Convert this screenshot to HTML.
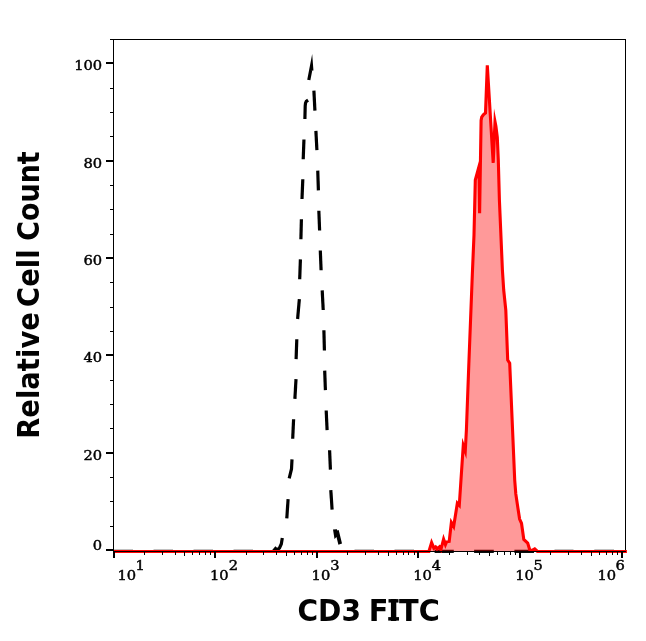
<!DOCTYPE html>
<html lang="en"><head><meta charset="utf-8"><title>CD3 FITC histogram</title>
<style>
html,body{margin:0;padding:0;background:#fff;}
body{width:646px;height:641px;overflow:hidden;}
svg{display:block;}
.tk{font-family:"DejaVu Serif","Liberation Serif",serif;font-size:13.1px;fill:#000;stroke:#000;stroke-width:0.45px;}
.ttl{font-family:"DejaVu Sans","Liberation Sans",sans-serif;font-weight:bold;font-size:29.6px;fill:#000;}
</style></head><body>
<svg width="646" height="641" viewBox="0 0 646 641">
<rect x="0" y="0" width="646" height="641" fill="#ffffff"/>
<g shape-rendering="crispEdges" fill="#000">
<rect x="110" y="39" width="516" height="1"/>
<rect x="113" y="39" width="1" height="513"/>
<rect x="625" y="39" width="1" height="513"/>
<rect x="106" y="62" width="7" height="2"/>
<rect x="106" y="160" width="7" height="2"/>
<rect x="106" y="257" width="7" height="2"/>
<rect x="106" y="354" width="7" height="2"/>
<rect x="106" y="452" width="7" height="2"/>
<rect x="106" y="549" width="7" height="2"/>
<rect x="110" y="88" width="3" height="1"/>
<rect x="110" y="112" width="3" height="1"/>
<rect x="110" y="136" width="3" height="1"/>
<rect x="110" y="185" width="3" height="1"/>
<rect x="110" y="209" width="3" height="1"/>
<rect x="110" y="234" width="3" height="1"/>
<rect x="110" y="282" width="3" height="1"/>
<rect x="110" y="307" width="3" height="1"/>
<rect x="110" y="331" width="3" height="1"/>
<rect x="110" y="380" width="3" height="1"/>
<rect x="110" y="404" width="3" height="1"/>
<rect x="110" y="428" width="3" height="1"/>
<rect x="110" y="477" width="3" height="1"/>
<rect x="110" y="501" width="3" height="1"/>
<rect x="110" y="526" width="3" height="1"/>
</g>
<g fill="none" stroke="#000" stroke-width="3.2" stroke-linecap="butt" stroke-linejoin="miter" stroke-miterlimit="10">
<path d="M113.5 551.35H133"/>
<path d="M153.5 551.35H173"/>
<path d="M193.5 551.35H213"/>
<path d="M233.5 551.35H253"/>
<path d="M354.5 551.35H374"/>
<path d="M394.5 551.35H414"/>
<path d="M434.6 551.35H453.8"/>
<path d="M474.1 551.35H493.8"/>
<path d="M514.4 551.35H534"/>
<path d="M554.5 551.35H573.5"/>
<path d="M594.3 551.35H614"/>
<path d="M308.8 80 L311.5 66 L311.85 70.6"/>
<path d="M313.9 90.6 L314.9 110.6"/>
<path d="M315.9 130.9 L316.9 150.1"/>
<path d="M317.75 170.6 L318.4 190.4"/>
<path d="M318.85 210.7 L319.6 230.5"/>
<path d="M320.3 250.5 L321.1 270.2"/>
<path d="M322.2 290.3 L323.2 310"/>
<path d="M323.9 330.3 L324.4 350.5"/>
<path d="M324.7 370.6 L325.4 390.1"/>
<path d="M326.2 410.5 L327.1 430.1"/>
<path d="M329.6 450.3 L330.4 469.6"/>
<path d="M330.8 490.2 L332.1 509.7"/>
<path d="M308.1 100.1 L306.3 101.3 L305.5 103.2 L305.2 106 L304.9 119"/>
<path d="M303.95 139.5 L303.2 159.2"/>
<path d="M302.8 179.3 L302 199"/>
<path d="M301.4 219.3 L300.9 239.25"/>
<path d="M300.4 259.4 L299.7 279.2"/>
<path d="M299.35 299.2 L297.6 319"/>
<path d="M296.8 339.2 L296.1 359.1"/>
<path d="M296 379.2 L294.9 398.9"/>
<path d="M293.6 419.3 L292.7 438.8"/>
<path d="M292 459.3 L291.5 469 L289.2 478.4"/>
<path d="M288.1 499.2 L286.8 518.3"/>
<path d="M282.3 538 L281.3 544 L279.5 548 L277 550 L275.5 548.5 L273 551.5"/>
</g>
<polygon fill="#000" points="333.0,529.6 336.9,529.3 337.3,530.4 338.7,529.9 342.0,543.5 338.4,544.7 336.5,537.0 334.5,539.0"/>
<clipPath id="cp"><rect x="0" y="0" width="646" height="553.1"/></clipPath>
<g clip-path="url(#cp)">
<path d="M114.0 551.5 L428.9 551.5 L431.59 542.55 L433.9 548.2 L435.6 546.9 L437.1 549.0 L439.4 546.9 L440.9 549.6 L443.59 539.12 L445.44 544.55 L446.6 541.8 L449.2 541.4 L451.38 522.56 L453.66 526.4 L457.35 503.24 L459.29 505.35 L463.27 445.42 L465.26 451.06 L466.4 430 L468.8 365 L472.3 275 L474.0 235 L475.3 180 L479.0 166.5 L479.6 213.28 L481.1 120.5 L481.7 117.2 L483.3 114.8 L485.5 113 L487.3 65.3 L493.2 162.92 L495.0 121.6 L495.9 126.2 L497.3 137.5 L498.3 160 L499.4 200 L502.4 270 L503.7 290 L505.8 310 L507.7 360 L509.7 363.2 L514.7 480 L515.8 493.9 L517.9 507.9 L519.6 519.1 L521.5 523.3 L523.8 539.5 L527.7 543 L529.8 550 L531.9 550.3 L534.7 548.9 L537.5 551.5 L626.9 551.5 Z" fill="#ff0000" fill-opacity="0.4" stroke="none"/>
<path d="M114.0 551.5 L428.9 551.5 L431.59 542.55 L433.9 548.2 L435.6 546.9 L437.1 549.0 L439.4 546.9 L440.9 549.6 L443.59 539.12 L445.44 544.55 L446.6 541.8 L449.2 541.4 L451.38 522.56 L453.66 526.4 L457.35 503.24 L459.29 505.35 L463.27 445.42 L465.26 451.06 L466.4 430 L468.8 365 L472.3 275 L474.0 235 L475.3 180 L479.0 166.5 L479.6 213.28 L481.1 120.5 L481.7 117.2 L483.3 114.8 L485.5 113 L487.3 65.3 L493.2 162.92 L495.0 121.6 L495.9 126.2 L497.3 137.5 L498.3 160 L499.4 200 L502.4 270 L503.7 290 L505.8 310 L507.7 360 L509.7 363.2 L514.7 480 L515.8 493.9 L517.9 507.9 L519.6 519.1 L521.5 523.3 L523.8 539.5 L527.7 543 L529.8 550 L531.9 550.3 L534.7 548.9 L537.5 551.5 L626.9 551.5" fill="none" stroke="#ff0000" stroke-width="3.1" stroke-linejoin="miter" stroke-miterlimit="10.0" stroke-linecap="butt"/>
</g>
<g shape-rendering="crispEdges" fill="#000">
<rect x="113" y="551" width="513" height="1"/>
<rect x="113" y="552" width="2" height="6"/>
<rect x="144" y="552" width="1" height="3"/>
<rect x="162" y="552" width="1" height="3"/>
<rect x="175" y="552" width="1" height="3"/>
<rect x="184" y="552" width="1" height="4"/>
<rect x="192" y="552" width="1" height="3"/>
<rect x="199" y="552" width="1" height="3"/>
<rect x="205" y="552" width="1" height="3"/>
<rect x="210" y="552" width="1" height="3"/>
<rect x="214" y="552" width="2" height="6"/>
<rect x="246" y="552" width="1" height="3"/>
<rect x="263" y="552" width="1" height="3"/>
<rect x="276" y="552" width="1" height="3"/>
<rect x="286" y="552" width="1" height="4"/>
<rect x="294" y="552" width="1" height="3"/>
<rect x="301" y="552" width="1" height="3"/>
<rect x="307" y="552" width="1" height="3"/>
<rect x="312" y="552" width="1" height="3"/>
<rect x="316" y="552" width="2" height="6"/>
<rect x="347" y="552" width="1" height="3"/>
<rect x="365" y="552" width="1" height="3"/>
<rect x="378" y="552" width="1" height="3"/>
<rect x="388" y="552" width="1" height="4"/>
<rect x="396" y="552" width="1" height="3"/>
<rect x="403" y="552" width="1" height="3"/>
<rect x="408" y="552" width="1" height="3"/>
<rect x="414" y="552" width="1" height="3"/>
<rect x="417" y="552" width="2" height="6"/>
<rect x="449" y="552" width="1" height="3"/>
<rect x="467" y="552" width="1" height="3"/>
<rect x="479" y="552" width="1" height="3"/>
<rect x="489" y="552" width="1" height="4"/>
<rect x="497" y="552" width="1" height="3"/>
<rect x="504" y="552" width="1" height="3"/>
<rect x="510" y="552" width="1" height="3"/>
<rect x="515" y="552" width="1" height="3"/>
<rect x="519" y="552" width="2" height="6"/>
<rect x="550" y="552" width="1" height="3"/>
<rect x="568" y="552" width="1" height="3"/>
<rect x="581" y="552" width="1" height="3"/>
<rect x="591" y="552" width="1" height="4"/>
<rect x="599" y="552" width="1" height="3"/>
<rect x="606" y="552" width="1" height="3"/>
<rect x="612" y="552" width="1" height="3"/>
<rect x="617" y="552" width="1" height="3"/>
<rect x="621" y="552" width="2" height="6"/>
</g>
<g opacity="0.996">
<text class="tk" transform="translate(102.2,70) scale(1.12,1)" text-anchor="end">100</text>
<text class="tk" transform="translate(102.2,168) scale(1.12,1)" text-anchor="end">80</text>
<text class="tk" transform="translate(102.2,265) scale(1.12,1)" text-anchor="end">60</text>
<text class="tk" transform="translate(102.2,362) scale(1.12,1)" text-anchor="end">40</text>
<text class="tk" transform="translate(102.2,460) scale(1.12,1)" text-anchor="end">20</text>
<text class="tk" transform="translate(102.2,550) scale(1.12,1)" text-anchor="end">0</text>
<text class="tk" transform="translate(117.5,580) scale(1.12,1)" text-anchor="start">10</text>
<text class="tk" transform="translate(135.6,570) scale(1.12,1)" text-anchor="start">1</text>
<text class="tk" transform="translate(210.0,580) scale(1.12,1)" text-anchor="start">10</text>
<text class="tk" transform="translate(228.7,570) scale(1.12,1)" text-anchor="start">2</text>
<text class="tk" transform="translate(311.6,580) scale(1.12,1)" text-anchor="start">10</text>
<text class="tk" transform="translate(330.2,570) scale(1.12,1)" text-anchor="start">3</text>
<text class="tk" transform="translate(413.3,580) scale(1.12,1)" text-anchor="start">10</text>
<text class="tk" transform="translate(431.8,570) scale(1.12,1)" text-anchor="start">4</text>
<text class="tk" transform="translate(515.3,580) scale(1.12,1)" text-anchor="start">10</text>
<text class="tk" transform="translate(533.5,570) scale(1.12,1)" text-anchor="start">5</text>
<text class="tk" transform="translate(597.5,580) scale(1.12,1)" text-anchor="start">10</text>
<text class="tk" transform="translate(615.5,570) scale(1.12,1)" text-anchor="start">6</text>
<text class="ttl" transform="translate(297.5,620.5) scale(0.9485,1)">CD3</text>
<text class="ttl" transform="translate(368.7,620.5) scale(0.9725,1)">FITC</text>
<rect x="388.5" y="599.1" width="10.0" height="3.5" fill="#000"/><rect x="388.2" y="617.1" width="10.8" height="3.5" fill="#000"/>
<text class="ttl" transform="translate(38.9,438.8) rotate(-90) scale(0.9276,1)">Relative</text>
<text class="ttl" transform="translate(38.9,306.9) rotate(-90) scale(0.926,1)">Cell</text>
<text class="ttl" transform="translate(38.9,240.7) rotate(-90) scale(0.9085,1)">Count</text>
</g>
</svg></body></html>
